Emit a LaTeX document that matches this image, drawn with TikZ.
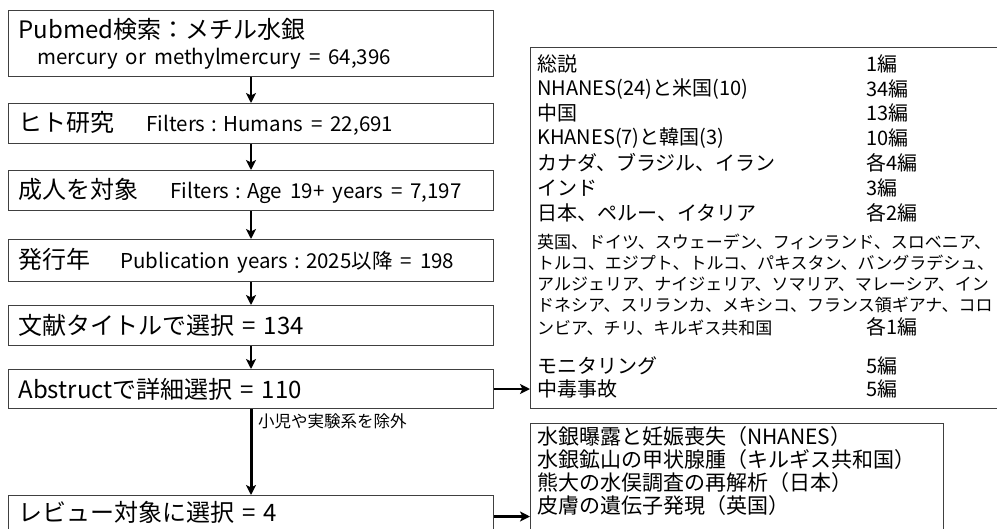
\documentclass[tikz,border=0pt]{standalone}
\usepackage{fontspec}
\setmainfont{Noto Sans CJK JP}
\usetikzlibrary{arrows.meta}
\begin{document}
\begin{tikzpicture}[x=1pt,y=-1pt,
  flowbox/.style={draw=black!75, line width=1pt, anchor=north west, minimum width=485pt,
    text width=465pt, inner xsep=10pt, inner ysep=0pt, align=left,
    font=\fontsize{24}{28}\selectfont},
  panel/.style={draw=black!75, line width=1pt, anchor=north west, inner sep=0pt},
  arr/.style={-{Stealth[length=10pt,width=10pt,inset=2.5pt]}, line width=2.5pt},
  rtbig/.style={anchor=west, inner sep=0pt, font=\fontsize{20}{22}\selectfont},
  rtsmall/.style={anchor=west, inner sep=0pt, font=\fontsize{17}{20}\selectfont},
  rtlow/.style={anchor=west, inner sep=0pt, font=\fontsize{21}{24}\selectfont},
  note/.style={anchor=west, inner sep=0pt, font=\fontsize{16.5}{18}\selectfont}
]
\useasboundingbox (0,0) rectangle (997,528);
\clip (0,0) rectangle (997,528);

% left column
\node[flowbox, minimum height=66pt] (b1) at (8,10)
  {Pubmed検索：メチル水銀\\[-2pt]\hspace*{19pt}{\fontsize{20.5}{24}\selectfont mercury or methylmercury = 64,396}};
\node[flowbox, minimum height=40pt] (b2) at (8,103)
  {ヒト研究\hspace*{32pt}{\fontsize{20.5}{24}\selectfont Filters\hspace{6pt}:\hspace{6pt}Humans = 22,691}};
\node[flowbox, minimum height=40pt] (b3) at (8,170)
  {成人を対象\hspace*{32pt}{\fontsize{20.5}{24}\selectfont Filters\hspace{6pt}:\hspace{6pt}Age 19+ years = 7,197}};
\node[flowbox, minimum height=42pt] (b4) at (8,239)
  {発行年\hspace*{30pt}{\fontsize{20.5}{24}\selectfont Publication years\hspace{6pt}:\hspace{6pt}2025以降 = 198}};
\node[flowbox, minimum height=40pt] (b5) at (8,305)
  {文献タイトルで選択 = 134};
\node[flowbox, minimum height=39pt] (b6) at (8,369)
  {Abstructで詳細選択 = 110};
\node[flowbox, minimum height=34pt] (b7) at (8,495)
  {レビュー対象に選択 = 4};

\draw[arr] (b1.south) -- (b2.north);
\draw[arr] (b2.south) -- (b3.north);
\draw[arr] (b3.south) -- (b4.north);
\draw[arr] (b4.south) -- (b5.north);
\draw[arr] (b5.south) -- (b6.north);
\draw[arr, line width=3pt] (b6.south) -- (b7.north);
\node[note] (ex) at (258,421) {小児や実験系を除外};

% right upper panel
\node[panel, minimum width=480pt, minimum height=361pt] (rt) at (530,47) {};
\node[rtbig] (r1) at (537,64) {総説};
\node[rtbig] (c1) at (866,64) {1編};
\node[rtbig] (r2) at (537,89) {NHANES(24)と米国(10)};
\node[rtbig] (c2) at (866,89) {34編};
\node[rtbig] (r3) at (537,113) {中国};
\node[rtbig] (c3) at (866,113) {13編};
\node[rtbig] (r4) at (537,138) {KHANES(7)と韓国(3)};
\node[rtbig] (c4) at (866,138) {10編};
\node[rtbig] (r5) at (537,163) {カナダ、ブラジル、イラン};
\node[rtbig] (c5) at (866,163) {各4編};
\node[rtbig] (r6) at (537,188) {インド};
\node[rtbig] (c6) at (866,188) {3編};
\node[rtbig] (r7) at (537,213) {日本、ペルー、イタリア};
\node[rtbig] (c7) at (866,213) {各2編};
\node[rtsmall] (s1) at (537,242) {英国、ドイツ、スウェーデン、フィンランド、スロベニア、};
\node[rtsmall] (s2) at (537,263) {トルコ、エジプト、トルコ、パキスタン、バングラデシュ、};
\node[rtsmall] (s3) at (537,284) {アルジェリア、ナイジェリア、ソマリア、マレーシア、イン};
\node[rtsmall] (s4) at (537,305) {ドネシア、スリランカ、メキシコ、フランス領ギアナ、コロ};
\node[rtsmall] (s5) at (537,328) {ンビア、チリ、キルギス共和国};
\node[rtbig] (c8) at (866,327) {各1編};
\node[rtbig] (r9) at (537,366) {モニタリング};
\node[rtbig] (c9) at (866,366) {5編};
\node[rtbig] (r10) at (537,389) {中毒事故};
\node[rtbig] (c10) at (866,389) {5編};

% right lower panel
\node[panel, minimum width=413pt, minimum height=130pt] (rb) at (530,423) {};
\node[rtlow] (l1) at (537,437) {水銀曝露と妊娠喪失（NHANES）};
\node[rtlow] (l2) at (537,460) {水銀鉱山の甲状腺腫（キルギス共和国）};
\node[rtlow] (l3) at (537,483) {熊大の水俣調査の再解析（日本）};
\node[rtlow] (l4) at (537,506) {皮膚の遺伝子発現（英国）};

\draw[arr] (b6.east) -- (b6.east -| rt.west);
\coordinate (b7r) at ([yshift=-4pt]b7.east);
\draw[arr] (b7r) -- (b7r -| rb.west);
\end{tikzpicture}
\end{document}
